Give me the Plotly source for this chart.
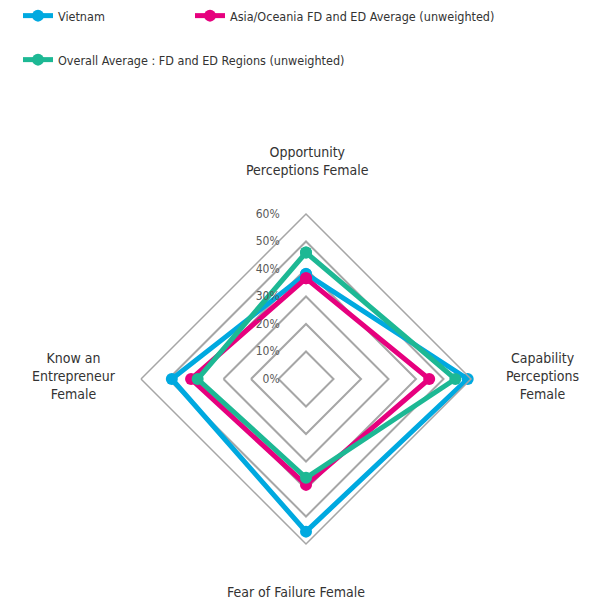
import plotly.graph_objects as go

categories = ["Opportunity<br>Perceptions Female", "Capability<br>Perceptions<br>Female",
              "Fear of Failure Female", "Know an<br>Entrepreneur<br>Female"]
vietnam = [0.382, 0.588, 0.555, 0.488]
asia_oceania = [0.366, 0.448, 0.385, 0.418]
overall = [0.46, 0.543, 0.359, 0.394]
radial_ticks = [0, 0.1, 0.2, 0.3, 0.4, 0.5, 0.6]
radial_labels = ["0%", "10%", "20%", "30%", "40%", "50%", "60%"]

series = [
    ("Vietnam", vietnam, "#00A9E0", "legend"),
    ("Asia/Oceania FD and ED Average (unweighted)", asia_oceania, "#E6007E", "legend2"),
    ("Overall Average : FD and ED Regions (unweighted)", overall, "#1DB894", "legend3"),
]

FONT = "DejaVu Sans Condensed, Liberation Sans Narrow, sans-serif"
fig = go.Figure()
for name, vals, color, leg in series:
    fig.add_trace(go.Scatterpolar(
        r=vals + [vals[0]], theta=categories + [categories[0]],
        mode="lines+markers", name=name, legend=leg, showlegend=True,
        line=dict(color=color, width=5), marker=dict(color=color, size=12),
    ))

OFF = 8  # page body margin
W, H = 598 - OFF, 603 - OFF
cx, cy, R = 306 - OFF, 379 - OFF, 165

def px(x):
    return (x - OFF) / W

def py(y):
    return 1 - (y - OFF) / H

PAD = "\u00a0" * 7
leg_font = dict(size=12.5, color="#333333")
fig.update_layout(
    width=W, height=H, margin=dict(l=0, r=0, t=0, b=0, autoexpand=False), showlegend=True,
    paper_bgcolor="white", plot_bgcolor="white",
    font=dict(family=FONT, size=13, color="#333333"),
    polar=dict(
        domain=dict(x=[(cx - R) / W, (cx + R) / W], y=[1 - (cy + R) / H, 1 - (cy - R) / H]),
        gridshape="linear", bgcolor="white",
        radialaxis=dict(range=[0, 0.6], tickvals=radial_ticks,
                        ticktext=[t + PAD for t in radial_labels],
                        showline=False, gridcolor="#A6A6A6", gridwidth=1.5, angle=90,
                        tickangle=90, side="counterclockwise", ticks="",
                        tickfont=dict(size=12, color="#595959")),
        angularaxis=dict(rotation=90, direction="clockwise", showgrid=False,
                         linecolor="#A6A6A6", linewidth=1.5, showticklabels=False, ticks=""),
    ),
    legend=dict(orientation="h", x=px(18), y=py(1), xanchor="left", yanchor="top",
                bgcolor="rgba(0,0,0,0)", font=leg_font),
    legend2=dict(orientation="h", x=px(190), y=py(1), xanchor="left", yanchor="top",
                 bgcolor="rgba(0,0,0,0)", font=leg_font),
    legend3=dict(orientation="h", x=px(18), y=py(45), xanchor="left", yanchor="top",
                 bgcolor="rgba(0,0,0,0)", font=leg_font),
)

label_pos = [(307, 161), (542, 376), (296, 592), (74, 376)]
for text, (x, y) in zip(categories, label_pos):
    fig.add_annotation(text=text, x=px(x), y=py(y), xref="paper", yref="paper",
                       showarrow=False, xanchor="center", yanchor="middle", align="center",
                       font=dict(size=14, color="#333333"))

fig.write_html("out.html")
